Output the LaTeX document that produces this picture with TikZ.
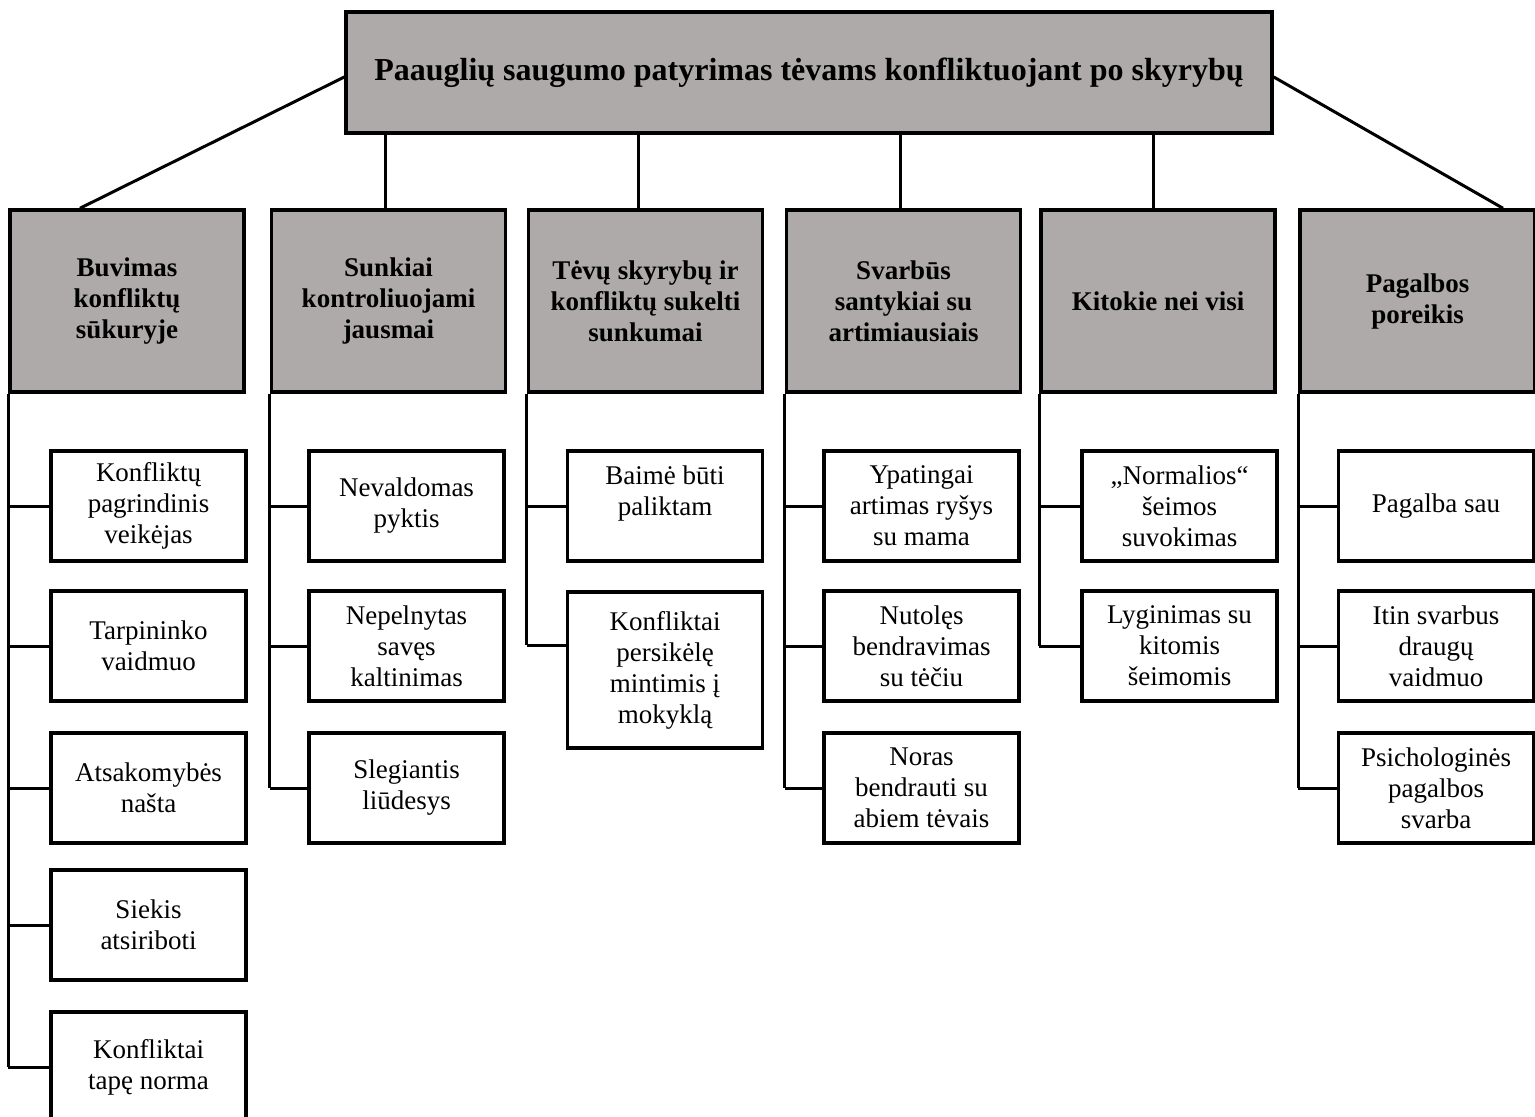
\documentclass[tikz,border=0pt]{standalone}
\usepackage{fontspec}
\setmainfont{Liberation Serif}
\definecolor{boxgray}{HTML}{AEAAAA}
\tikzset{
 conn/.style={line width=1.5pt},
 topbox/.style={draw, line width=1.75pt, fill=boxgray, minimum width=463pt, minimum height=60.5pt, inner sep=0pt, font=\fontsize{16}{18}\selectfont\bfseries},
 catbox/.style={draw, line width=1.75pt, fill=boxgray, minimum width=117pt, minimum height=91pt, inner sep=0pt, align=center, font=\fontsize{13.5}{15.5}\selectfont\bfseries},
 subbox/.style={draw, line width=1.75pt, fill=white, minimum width=97.5pt, minimum height=55pt, inner sep=0pt, align=center, font=\fontsize{13.5}{15.5}\selectfont},
}
\begin{document}
\begin{tikzpicture}[x=0.5pt,y=-0.5pt]
\useasboundingbox (0,0) rectangle (1535,1116);
\node[topbox] (title) at (809,72.5) {\raisebox{-2pt}{Paauglių saugumo patyrimas tėvams konfliktuojant po skyrybų}};
\node[catbox] (cat1) at (127,301) {Buvimas\\konfliktų\\sūkuryje};
\node[catbox] (cat2) at (388.5,301) {Sunkiai\\kontroliuojami\\jausmai};
\node[catbox] (cat3) at (645.5,301) {Tėvų skyrybų ir\\konfliktų sukelti\\sunkumai};
\node[catbox] (cat4) at (903.5,301) {Svarbūs\\santykiai su\\artimiausiais};
\node[catbox] (cat5) at (1158,301) {Kitokie nei visi};
\node[catbox, minimum width=117.5pt] (cat6) at (1417.5,301) {Pagalbos\\poreikis};
% column 1
\node[subbox] (c11) at (148.5,506) {Konfliktų\\pagrindinis\\veikėjas};
\node[subbox] (c12) at (148.5,646) {Tarpininko\\vaidmuo};
\node[subbox] (c13) at (148.5,788) {Atsakomybės\\našta};
\node[subbox] (c14) at (148.5,925) {Siekis\\atsiriboti};
\node[subbox] (c15) at (148.5,1067) {Konfliktai\\tapę norma};
% column 2
\node[subbox] (c21) at (406.5,506) {Nevaldomas\\pyktis};
\node[subbox] (c22) at (406.5,646) {Nepelnytas\\savęs\\kaltinimas};
\node[subbox] (c23) at (406.5,788) {Slegiantis\\liūdesys};
% column 3
\node[subbox] (c31) at (665,506) {Baimė būti\\paliktam\\\mbox{}};
\node[subbox, minimum height=78pt] (c32) at (665,670) {Konfliktai\\persikėlę\\mintimis į\\mokyklą};
% column 4
\node[subbox] (c41) at (921.5,506) {Ypatingai\\artimas ryšys\\su mama};
\node[subbox] (c42) at (921.5,646) {Nutolęs\\bendravimas\\su tėčiu};
\node[subbox] (c43) at (921.5,788) {Noras\\bendrauti su\\abiem tėvais};
% column 5
\node[subbox] (c51) at (1179.5,506) {„Normalios“\\šeimos\\suvokimas};
\node[subbox] (c52) at (1179.5,646) {Lyginimas su\\kitomis\\šeimomis};
% column 6
\node[subbox] (c61) at (1436,506) {Pagalba sau};
\node[subbox] (c62) at (1436,646) {Itin svarbus\\draugų\\vaidmuo};
\node[subbox] (c63) at (1436,788) {Psichologinės\\pagalbos\\svarba};
% top connectors
\draw[conn] ([yshift=-2.25pt]title.west) -- ([xshift=-23.5pt]cat1.north);
\draw[conn] ([yshift=-2.25pt]title.east) -- ([xshift=42.75pt]cat6.north);
\foreach \c/\s in {cat2/-1.75pt, cat3/-3.75pt, cat4/-1.75pt, cat5/-2.5pt}
  \draw[conn, transform canvas={xshift=\s}] (\c.north) -- (\c.north |- title.south);
% trunks and ticks
\draw[conn] (cat1.south west) -- (cat1.south west |- c15.west);
\foreach \k in {1,...,5} \draw[conn] (cat1.south west |- c1\k.west) -- (c1\k.west);
\draw[conn] (cat2.south west) -- (cat2.south west |- c23.west);
\foreach \k in {1,...,3} \draw[conn] (cat2.south west |- c2\k.west) -- (c2\k.west);
\coordinate (k32) at ([yshift=12.5pt]c32.west);
\draw[conn] (cat3.south west) -- (cat3.south west |- k32);
\draw[conn] (cat3.south west |- c31.west) -- (c31.west);
\draw[conn] (cat3.south west |- k32) -- (k32);
\draw[conn] (cat4.south west) -- (cat4.south west |- c43.west);
\foreach \k in {1,...,3} \draw[conn] (cat4.south west |- c4\k.west) -- (c4\k.west);
\draw[conn] (cat5.south west) -- (cat5.south west |- c52.west);
\foreach \k in {1,...,2} \draw[conn] (cat5.south west |- c5\k.west) -- (c5\k.west);
\draw[conn] (cat6.south west) -- (cat6.south west |- c63.west);
\foreach \k in {1,...,3} \draw[conn] (cat6.south west |- c6\k.west) -- (c6\k.west);
\end{tikzpicture}
\end{document}
